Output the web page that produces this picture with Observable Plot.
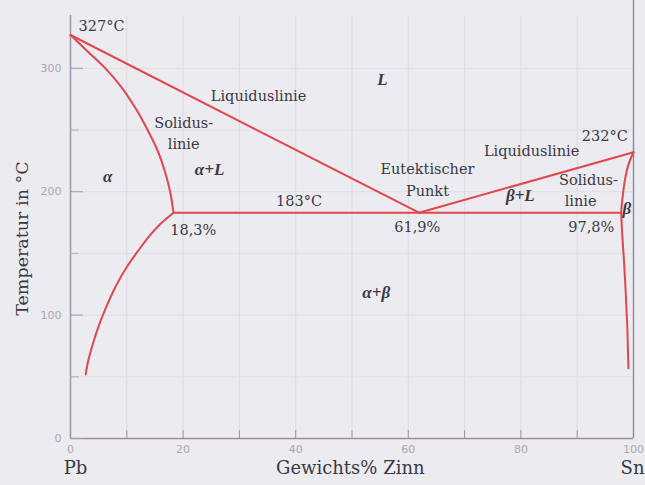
<!DOCTYPE html>
<html><head><meta charset="utf-8">
<script src="https://cdn.jsdelivr.net/npm/d3@7"></script>
<script src="https://cdn.jsdelivr.net/npm/@observablehq/plot@0.6"></script>
<style>
html,body{margin:0;padding:0;background:#ecebef;}
#chart svg{display:block;}
</style></head>
<body><div id="chart"></div>
<script>
// Phase boundaries: [Gewichts% Zinn, Temperatur °C]
const liquidusLeft  = [[0,327],[61.9,183]];
const solidusLeft   = [[0,327],[3.1,313.5],[6.2,300],[9,285],[11.5,268],[13.7,250],[15.5,233],[16.8,216],[17.7,200],[18.3,183]];
const solvusLeft    = [[18.3,183],[16,174],[14,164],[12,152],[10,139],[8,123],[6.3,106],[5,91],[4,77],[3.2,64],[2.7,52]];
const eutectic      = [[18.3,183],[97.8,183]];
const liquidusRight = [[61.9,183],[100,232]];
const solidusRight  = [[100,232],[99.1,222],[98.5,210],[98.1,197],[97.8,183]];
const solvusRight   = [[97.8,183],[98.0,165],[98.3,145],[98.6,120],[98.9,90],[99.1,57]];

// Axis ticks
const xMajorTicks = [0,20,40,60,80,100];
const xMinorTicks = [10,30,50,70,90];
const yMajorTicks = [0,100,200,300];
const yMinorTicks = [50,150,250];

// Annotations [text, x, T]
const plainLabels = [
  ["327°C",5.5,334],["Liquiduslinie",33.4,277],["Solidus-",20.1,255],["linie",20.1,238],
  ["183°C",40.6,192],["18,3%",21.8,169],["Eutektischer",63.4,218],["Punkt",63.4,200.5],
  ["61,9%",61.6,171],["Liquiduslinie",81.9,233],["232°C",94.9,245],["Solidus-",92,209],
  ["linie",90.6,192],["97,8%",92.5,171.5]
];
const phaseLabels = [
  ["L",55.4,290.7],["α",6.6,212],["α+L",24.7,218],["β+L",79.9,196.8],["α+β",54.3,118],["β",98.8,186]
];
const centerLabels = [["Pb",0.9],["Gewichts% Zinn",49.7]];
const startLabels = [["Sn",97.7]];
const yTitle = "Temperatur in °C";

const toPts = a => a.map(([x,T]) => ({x,T}));
const straight = [liquidusLeft, eutectic, liquidusRight];
const bent = [solidusLeft, solvusLeft, solidusRight, solvusRight];
const RED = "#e0474f";
const INK = "#3a3946";
const TICK = "#a9a7b3";

const plot = Plot.plot({
  width: 645, height: 485,
  marginLeft: 70, marginRight: 12, marginTop: 16, marginBottom: 47,
  x: {domain: [0,100]},
  y: {domain: [0,342]},
  style: {background: "#ecebef", fontFamily: "DejaVu Serif", overflow: "visible"},
  marks: [
    Plot.gridX([...xMinorTicks, ...xMajorTicks.slice(1,-1)], {stroke: "#dddbe2", strokeOpacity: 1}),
    Plot.gridY([...yMinorTicks, ...yMajorTicks.slice(1)], {stroke: "#e0dee5", strokeOpacity: 1}),
    Plot.ruleX([0], {stroke: "#9a92a6", strokeWidth: 1.5, insetTop: -1}),
    Plot.ruleX([100], {stroke: "#8f8d9e", strokeWidth: 1.5, insetTop: -16}),
    Plot.ruleY([0], {stroke: "#a58b96", strokeWidth: 1.5}),
    Plot.axisY(yMajorTicks, {tickSize: 13, dx: 13, text: null, label: null, stroke: "#a39bad"}),
    Plot.axisY(yMinorTicks, {tickSize: 9, dx: 9, text: null, label: null, stroke: "#b3adbb"}),
    Plot.axisX([...xMajorTicks.slice(1,-1), ...xMinorTicks], {tickSize: 8, dy: -8, text: null, label: null, stroke: "#a4929c"}),
    Plot.axisY(yMajorTicks, {tickSize: 0, tickPadding: 9, label: null, color: TICK, fontFamily: "DejaVu Sans", fontSize: 11}),
    Plot.axisX(xMajorTicks, {tickSize: 0, tickPadding: 7, label: null, color: TICK, fontFamily: "DejaVu Sans", fontSize: 11}),
    ...straight.map(c => Plot.line(toPts(c), {x: "x", y: "T", stroke: RED, strokeWidth: 2})),
    ...bent.map(c => Plot.line(toPts(c), {x: "x", y: "T", stroke: RED, strokeWidth: 2, curve: "monotone-y"})),
    Plot.text(plainLabels, {x: d => d[1], y: d => d[2], text: d => d[0], fill: INK, fontSize: 14.5, fontFamily: "DejaVu Serif"}),
    Plot.text(phaseLabels, {x: d => d[1], y: d => d[2], text: d => d[0], fill: INK, fontSize: 17, fontFamily: "Liberation Serif", fontWeight: "bold", fontStyle: "italic"}),
    Plot.text(centerLabels, {x: d => d[1], text: d => d[0], textAnchor: "middle", frameAnchor: "bottom", dy: 35, fill: INK, fontSize: 18, fontFamily: "DejaVu Serif"}),
    Plot.text(startLabels, {x: d => d[1], text: d => d[0], textAnchor: "start", frameAnchor: "bottom", dy: 35, fill: INK, fontSize: 18, fontFamily: "DejaVu Serif"}),
    Plot.text([yTitle], {text: d => d, y: 162, frameAnchor: "left", textAnchor: "middle", dx: -48, rotate: -90, fill: INK, fontSize: 17.5, fontFamily: "DejaVu Serif"})
  ]
});
document.getElementById("chart").append(plot);
</script>
</body></html>
